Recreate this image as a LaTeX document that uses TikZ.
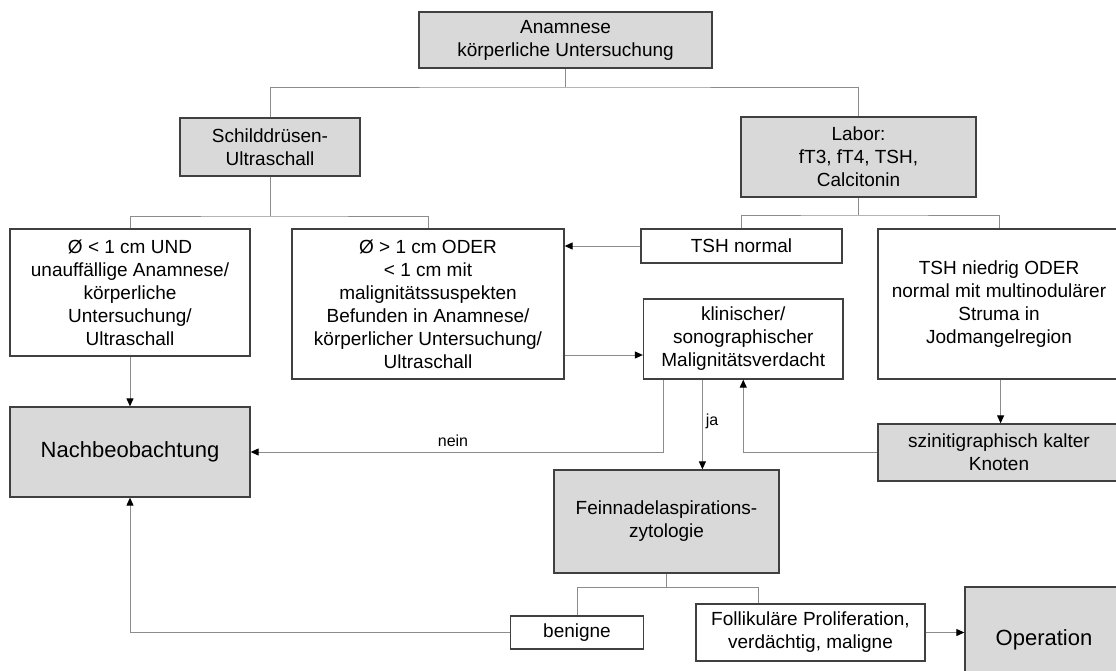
\documentclass[tikz,border=0pt]{standalone}
\usepackage{fontspec}
\setmainfont{Liberation Sans}
\usetikzlibrary{arrows.meta}
\definecolor{boxfill}{HTML}{D9D9D9}
\definecolor{boxline}{HTML}{404040}
\definecolor{connline}{HTML}{8C8C8C}
\begin{document}
\begin{tikzpicture}[x=1pt,y=-1pt,
  box/.style={draw=boxline, line width=1.3pt, rectangle, align=center, inner sep=0pt, font=\fontsize{19}{23}\selectfont},
  gbox/.style={box, fill=boxfill},
  wbox/.style={box, fill=white},
  bigtext/.style={font=\fontsize{22}{26}\selectfont},
  conn/.style={draw=connline, line width=1pt},
  arr/.style={conn, -{Triangle[length=8pt,width=7pt,color=black]}},
  lbl/.style={font=\fontsize{16}{19}\selectfont, inner sep=1pt}]
\clip (0,0) rectangle (1116,670);
\fill[white] (0,0) rectangle (1116,670);

% nodes
\node[gbox, minimum width=293pt, minimum height=56pt] (anam) at (565.5,40) {Anamnese\\körperliche Untersuchung};
\node[gbox, minimum width=180pt, minimum height=58pt] (sd) at (270,147) {Schilddrüsen-\\Ultraschall};
\node[gbox, minimum width=235pt, minimum height=80pt] (labor) at (858.5,157) {Labor:\\fT3, fT4, TSH,\\Calcitonin};
\node[wbox, minimum width=240pt, minimum height=127pt] (left1) at (130,292.5) {Ø < 1 cm UND\\unauffällige Anamnese/\\körperliche\\Untersuchung/\\Ultraschall};
\node[wbox, minimum width=272pt, minimum height=150pt] (mid) at (428,304) {Ø > 1 cm ODER\\< 1 cm mit\\malignitätssuspekten\\Befunden in Anamnese/\\körperlicher Untersuchung/\\Ultraschall};
\node[wbox, minimum width=201pt, minimum height=34pt] (tshn) at (741.5,246) {TSH normal};
\node[wbox, minimum width=242pt, minimum height=150pt] (tshl) at (999,304) {TSH niedrig ODER\\normal mit multinodulärer\\Struma in\\Jodmangelregion};
\node[wbox, minimum width=199.5pt, minimum height=80pt] (klin) at (743.25,339) {klinischer/\\sonographischer\\Malignitätsverdacht};
\node[gbox, bigtext, minimum width=240pt, minimum height=90pt] (nach) at (130,452) {Nachbeobachtung};
\node[gbox, minimum width=242pt, minimum height=57pt] (szin) at (999,452.5) {szinitigraphisch kalter\\Knoten};
\node[gbox, minimum width=225pt, minimum height=103pt] (fna) at (666.5,521.5) {Feinnadelaspirations-\\zytologie};
\node[wbox, minimum width=133.5pt, minimum height=33pt] (ben) at (577,632.5) {benigne};
\node[wbox, minimum width=229pt, minimum height=57pt] (foll) at (810.5,632.5) {Follikuläre Proliferation,\\verdächtig, maligne};
\node[gbox, bigtext, minimum width=158pt, minimum height=106pt] (op) at (1044,640) {Operation};

% helper coordinates
\coordinate (j1) at (565.5,87);
\coordinate (j2) at (270,216);
\coordinate (j3) at (858.5,215);
\coordinate (j4) at (666.5,587);
\coordinate (y355) at (0,355);
\coordinate (nx) at (663,0);
\coordinate (jx) at (702.4,0);
\coordinate (tx) at (1000.6,0);
\coordinate (fx) at (758,0);

% connectors
\draw[conn] (anam.south) -- (j1);
\draw[conn] (sd.north) |- (j1) -| (labor.north);
\draw[conn] (sd.south) -- (j2);
\draw[conn] (left1.north) |- (j2) -| (mid.north);
\draw[conn] (labor.south) -- (j3);
\draw[conn] (tshn.north) |- (j3) -| (tshl.north);
\draw[arr] (tshn.west) -- (tshn.west -| mid.east);
\draw[arr] (mid.east |- y355) -- (klin.west |- y355);
\draw[arr] (left1.south) -- (nach.north);
\draw[arr] (klin.south -| nx) |- (nach.east);
\draw[arr] (klin.south -| jx) -- (fna.north -| jx);
\draw[arr] (tshl.south -| tx) -- (szin.north -| tx);
\draw[arr] (szin.west) -| (klin.south);
\draw[conn] (fna.south) -- (j4);
\draw[conn] (ben.north) |- (j4) -| (foll.north -| fx);
\draw[arr] (ben.west) -| (nach.south);
\draw[arr] (foll.east) -- (foll.east -| op.west);

% labels
\node[lbl] (nein) at (453,441) {nein};
\node[lbl] (ja) at (712,421) {ja};
\end{tikzpicture}
\end{document}
